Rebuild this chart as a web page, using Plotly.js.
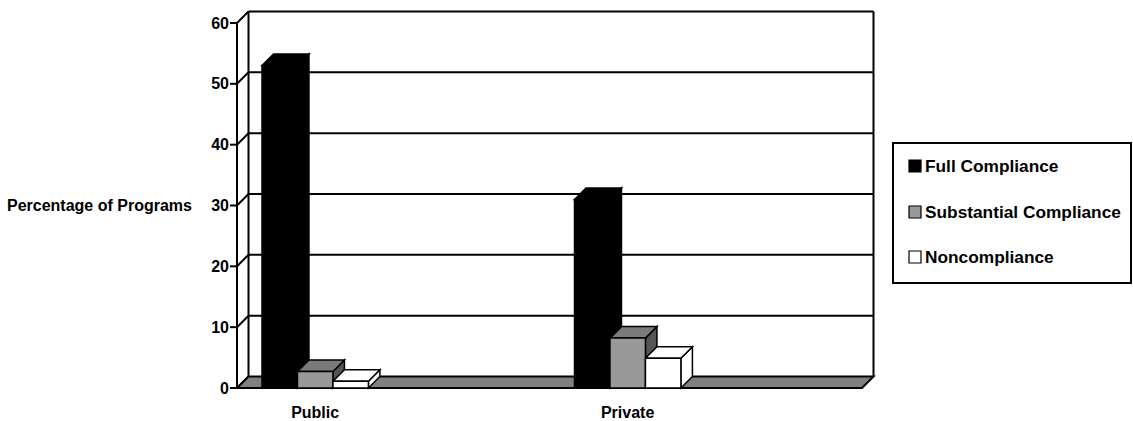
<!DOCTYPE html>
<html>
<head>
<meta charset="utf-8">
<script src="https://cdn.plot.ly/plotly-3.0.1.min.js"></script>
<style>
  html, body { margin: 0; padding: 0; background: #ffffff; }
  #chart { width: 1133px; height: 421px; }
</style>
</head>
<body>
<div id="chart"></div>
<script>
// ---- data ----
const categories = ['Public', 'Private'];
const seriesNames = ['Full Compliance', 'Substantial Compliance', 'Noncompliance'];
const fullCompliance = [53, 31];
const substantialCompliance = [2.7, 8.2];
const noncompliance = [1.1, 4.9];
const yTickValues = [0, 10, 20, 30, 40, 50, 60];
const yAxisTitle = 'Percentage of Programs';

const series = [fullCompliance, substantialCompliance, noncompliance];

// ---- look ----
const faceColors = [
  { front: '#000000', top: '#000000', side: '#000000' },
  { front: '#999999', top: '#7a7a7a', side: '#555555' },
  { front: '#ffffff', top: '#ffffff', side: '#ffffff' }
];
const FONT = { family: 'Liberation Sans, Arial, sans-serif', size: 16, color: '#000000', weight: 'bold' };
const LEGEND_FONT = { family: 'Liberation Sans, Arial, sans-serif', size: 17.3, color: '#000000', weight: 'bold' };
const EDGE = '#000000';

// page layout in pixels
const W = 1133, H = 421;
const plotL = 228, plotR = 877, plotT = 9, plotB = 390;
// front plane: slot 0 at x=237px, slot 4 at x=862px; value 0 at y=388px, 60 at y=23px
const pxPerSlot = (862 - 237) / 4;
const pxPerUnit = (388 - 23) / 60;
const xRange = [(plotL - 237) / pxPerSlot, (plotR - 237) / pxPerSlot];
const yRange = [-(plotB - 388) / pxPerUnit, (388 - plotT) / pxPerUnit];
const slotCount = 4;
const yMax = 60;

// depth of the 3-D box, in axis units
const depthX = 11.5 / pxPerSlot;
const depthY = 11.5 / pxPerUnit;

// bars inside a slot
const barWidth = 0.227;
const firstOffset = -0.34;
const slotCenter = i => 2 * i + 0.5;   // each category is followed by an empty slot

// paper helpers for items outside the plotting area
const paperX = px => (px - plotL) / (plotR - plotL);
const paperY = py => (plotB - py) / (plotB - plotT);

// ---- bar front faces ----
const traces = series.map((vals, s) => ({
  type: 'bar',
  name: seriesNames[s],
  x: categories.map((c, i) => slotCenter(i)),
  y: vals,
  width: barWidth,
  offset: firstOffset + s * barWidth,
  marker: { color: faceColors[s].front, line: { color: EDGE, width: 1.5 } },
  hoverinfo: 'skip',
  showlegend: false
}));

// ---- box walls, floor and 3-D faces ----
const shapes = [];
const line = (x0, y0, x1, y1, w) => ({
  type: 'line', xref: 'x', yref: 'y', layer: 'between',
  x0, y0, x1, y1, line: { color: EDGE, width: w || 2 }
});
const poly = (pts, fill, w) => ({
  type: 'path', xref: 'x', yref: 'y', layer: 'between',
  path: 'M' + pts.map(p => p[0] + ',' + p[1]).join('L') + 'Z',
  fillcolor: fill, line: { color: EDGE, width: w || 1.5 }
});

// back wall gridlines and the side-wall diagonals that join them to the value axis
yTickValues.forEach(v => {
  if (v > 0) shapes.push(line(depthX, v + depthY, slotCount + depthX, v + depthY));
  shapes.push(line(0, v, depthX, v + depthY));
  shapes.push(line(-0.045, v, 0, v));
});
shapes.push(line(depthX, depthY, depthX, yMax + depthY));
shapes.push(line(slotCount + depthX, depthY, slotCount + depthX, yMax + depthY));

// floor
shapes.push(poly([[0, 0], [slotCount, 0], [slotCount + depthX, depthY], [depthX, depthY]], '#808080', 2));
// value axis on the front plane
shapes.push(line(0, 0, 0, yMax));

// top and right faces of every bar, left to right
categories.forEach((c, i) => {
  series.forEach((vals, s) => {
    const v = vals[i];
    const x0 = slotCenter(i) + firstOffset + s * barWidth;
    const x1 = x0 + barWidth;
    shapes.push(poly([[x1, 0], [x1 + depthX, depthY], [x1 + depthX, v + depthY], [x1, v]], faceColors[s].side));
    shapes.push(poly([[x0, v], [x0 + depthX, v + depthY], [x1 + depthX, v + depthY], [x1, v]], faceColors[s].top));
  });
});

// ---- legend box ----
const legendItemY = [166, 212, 257];
shapes.push({
  type: 'rect', xref: 'paper', yref: 'paper', layer: 'above',
  x0: paperX(893), x1: paperX(1131), y0: paperY(283), y1: paperY(143),
  fillcolor: '#ffffff', line: { color: EDGE, width: 2 }
});
const annotations = [];
seriesNames.forEach((name, s) => {
  const cy = legendItemY[s];
  shapes.push({
    type: 'rect', xref: 'paper', yref: 'paper', layer: 'above',
    x0: paperX(909), x1: paperX(921), y0: paperY(cy + 6), y1: paperY(cy - 6),
    fillcolor: faceColors[s].front, line: { color: EDGE, width: 1.2 }
  });
  annotations.push({
    xref: 'paper', yref: 'paper', x: paperX(923), y: paperY(cy),
    xanchor: 'left', yanchor: 'middle', showarrow: false,
    text: name, font: LEGEND_FONT
  });
});

// axis title, level with the 30 tick
annotations.push({
  xref: 'paper', yref: 'y', x: paperX(194), y: 30,
  xanchor: 'right', yanchor: 'middle', showarrow: false,
  text: yAxisTitle, font: FONT
});

const layout = {
  width: W, height: H,
  margin: { l: plotL, r: W - plotR, t: plotT, b: H - plotB, pad: 0 },
  paper_bgcolor: '#ffffff', plot_bgcolor: 'rgba(0,0,0,0)',
  barmode: 'overlay',
  showlegend: false,
  font: FONT,
  xaxis: {
    range: xRange, showgrid: false, zeroline: false, showline: false,
    tickvals: categories.map((c, i) => slotCenter(i)), ticktext: categories,
    ticks: '', tickfont: FONT, ticklabelstandoff: 11, fixedrange: true
  },
  xaxis2: {
    overlaying: 'x', anchor: 'y', side: 'bottom', range: xRange,
    tickvals: [0, 1, 2, 3, 4], ticks: 'outside', ticklen: 8, tickwidth: 2, tickcolor: EDGE,
    showticklabels: false, showgrid: false, zeroline: false, showline: false, fixedrange: true
  },
  yaxis: {
    range: yRange, showgrid: false, zeroline: false, showline: false,
    tickvals: yTickValues, ticks: '', tickfont: FONT, ticklabelstandoff: -2, fixedrange: true
  },
  shapes, annotations
};

Plotly.newPlot('chart', traces, layout, { staticPlot: true, displayModeBar: false });
</script>
</body>
</html>
